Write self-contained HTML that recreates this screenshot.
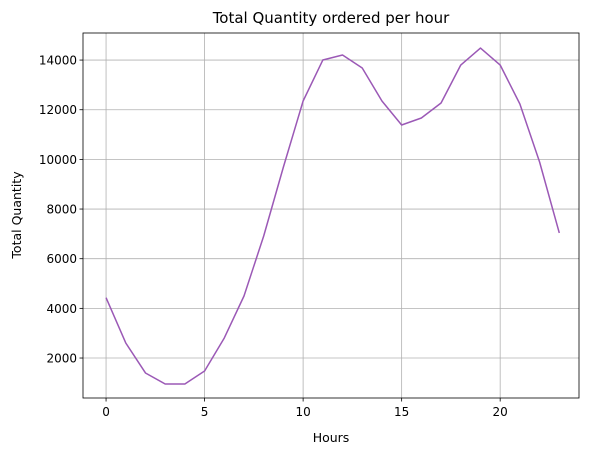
<!DOCTYPE html>
<html><head><meta charset="utf-8"><style>
body{margin:0;background:#fff;font-family:"DejaVu Sans","Liberation Sans",sans-serif;}
svg text{font-family:"DejaVu Sans","Liberation Sans",sans-serif;fill:#000}
</style></head><body>
<svg id="chart" width="589" height="455" xmlns="http://www.w3.org/2000/svg">
<rect width="589" height="455" fill="#fff"/>
<g id="grid"></g>
<g id="series"></g>
<rect x="83" y="33" width="496" height="365" fill="none" stroke="#000" stroke-width="0.8"/>
<g id="ticks"></g>
<text x="331" y="23" text-anchor="middle" font-size="15">Total Quantity ordered per hour</text>
<text x="331" y="442" text-anchor="middle" font-size="12.5">Hours</text>
<text x="21" y="215" text-anchor="middle" font-size="12.5" transform="rotate(-90 21 215)">Total Quantity</text>
</svg>
<script>
const hours=[0,1,2,3,4,5,6,7,8,9,10,11,12,13,14,15,16,17,18,19,20,21,22,23];
const quantities=[4428,2606,1398,955,955,1478,2807,4498,6915,9693,12351,14002,14203,13680,12351,11385,11667,12271,13801,14485,13801,12231,9895,7036];
const xTicks=[0,5,10,15,20];
const yTicks=[2000,4000,6000,8000,10000,12000,14000];
const L=83,R=579,T=33,B=398;
const xMin=-1.17,xMax=24.0,yMin=390,yMax=15090;
const sx=v=>L+(v-xMin)/(xMax-xMin)*(R-L);
const sy=v=>B-(v-yMin)/(yMax-yMin)*(B-T);
const NS="http://www.w3.org/2000/svg";
const mk=(t,a,p)=>{const e=document.createElementNS(NS,t);for(const k in a)e.setAttribute(k,a[k]);p.appendChild(e);return e;};
const grid=document.getElementById('grid'),ticks=document.getElementById('ticks'),series=document.getElementById('series');
xTicks.forEach(v=>{const x=sx(v);
 const g=mk('line',{x1:x,x2:x,y1:T,y2:B,stroke:'#b0b0b0','stroke-width':0.8},grid);
 
 
 mk('line',{x1:x,x2:x,y1:B,y2:B+3.5,stroke:'#000','stroke-width':0.8},ticks);
 const t=mk('text',{x:x,y:B+18,'text-anchor':'middle','font-size':12},ticks);t.textContent=v;
 
 
});
yTicks.forEach(v=>{const y=sy(v);
 const g=mk('line',{x1:L,x2:R,y1:y,y2:y,stroke:'#b0b0b0','stroke-width':0.8},grid);
 
 
 mk('line',{x1:L-3.5,x2:L,y1:y,y2:y,stroke:'#000','stroke-width':0.8},ticks);
 const t=mk('text',{x:L-6,y:y+4.5,'text-anchor':'end','font-size':12},ticks);t.textContent=v;
 
 
});
const pts=hours.map((h,i)=>sx(h)+','+sy(quantities[i])).join(' ');
const line=mk('polyline',{points:pts,fill:'none',stroke:'#9b59b6','stroke-width':1.5,'stroke-linejoin':'round'},series);


</script>
</body></html>
